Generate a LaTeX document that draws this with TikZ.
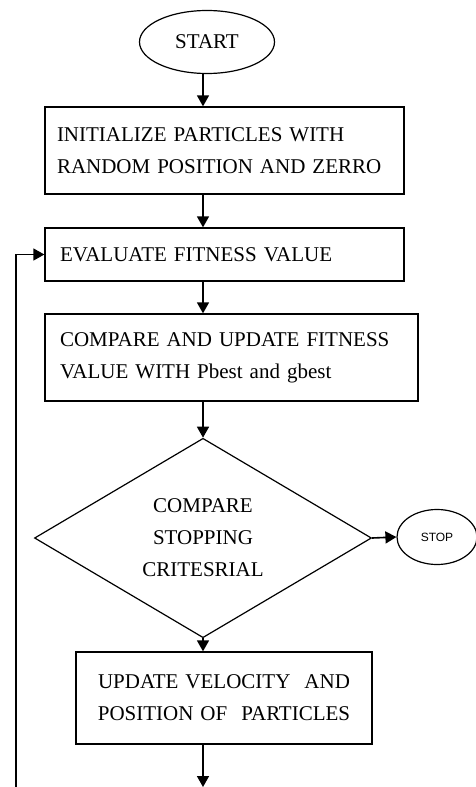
\documentclass[tikz,border=0pt]{standalone}
\usepackage{fontspec}
\setmainfont{Liberation Serif}
\setsansfont{Liberation Sans}
\usepackage{tikz}
\usetikzlibrary{shapes.geometric, arrows.meta, positioning, calc}
\newcommand{\flowfont}{\fontsize{21}{32}\selectfont}

\tikzset{
    procbox/.style={draw, line width=1.3pt, inner xsep=15pt, inner ysep=0pt, align=left, font=\flowfont},
    terminal/.style={draw, ellipse, line width=1.2pt, inner sep=0pt},
    decision/.style={draw, diamond, line width=1.2pt, inner sep=0pt, align=center, font=\flowfont},
    flowarrow/.style={line width=1.6pt, -{Triangle[length=11pt,width=12pt]}}
}

\begin{document}
\begin{tikzpicture}[x=1pt, y=-1pt]
    \useasboundingbox (0,0) rectangle (475,787);

    \node[terminal, minimum width=135pt, minimum height=63pt, font=\flowfont] (start) at (207,42) {START};
    \node[procbox, inner xsep=12pt, text width=335pt, minimum height=87pt] (init) at (224.5,150.5)
        {INITIALIZE PARTICLES WITH\\RANDOM POSITION AND ZERRO};
    \node[procbox, text width=329pt, minimum height=53pt] (eval) at (224.5,254.5)
        {EVALUATE FITNESS VALUE};
    \node[procbox, text width=343pt, minimum height=87pt] (cmpbox) at (231.5,357.5)
        {COMPARE AND UPDATE FITNESS\\VALUE WITH Pbest and gbest};
    \node[decision, minimum width=337pt, minimum height=194pt] (crit) at (203,538)
        {COMPARE\\STOPPING\\CRITESRIAL};
    \node[terminal, minimum width=80pt, minimum height=55pt, font=\sffamily\fontsize{12}{14}\selectfont] (stop) at (437,537) {STOP};
    \node[procbox, align=center, text width=266pt, minimum height=92pt] (update) at (224,698)
        {UPDATE VELOCITY~ AND\\POSITION OF~ PARTICLES};

    % loop ends at the page edge
    \coordinate (next) at (203,787);
    \coordinate (back) at (16,787);

    \draw[flowarrow] (start.south -| crit) -- (init.north -| crit);
    \draw[flowarrow] (init.south -| crit) -- (eval.north -| crit);
    \draw[flowarrow] (eval.south -| crit) -- (cmpbox.north -| crit);
    \draw[flowarrow] (cmpbox.south -| crit) -- (crit.north);
    \draw[flowarrow] (crit.east) -- (stop.west);
    \draw[flowarrow] (crit.south) -- (update.north -| crit);
    \draw[flowarrow] (update.south -| crit) -- (next);
    \draw[flowarrow] (back) |- (eval.west);
\end{tikzpicture}
\end{document}
